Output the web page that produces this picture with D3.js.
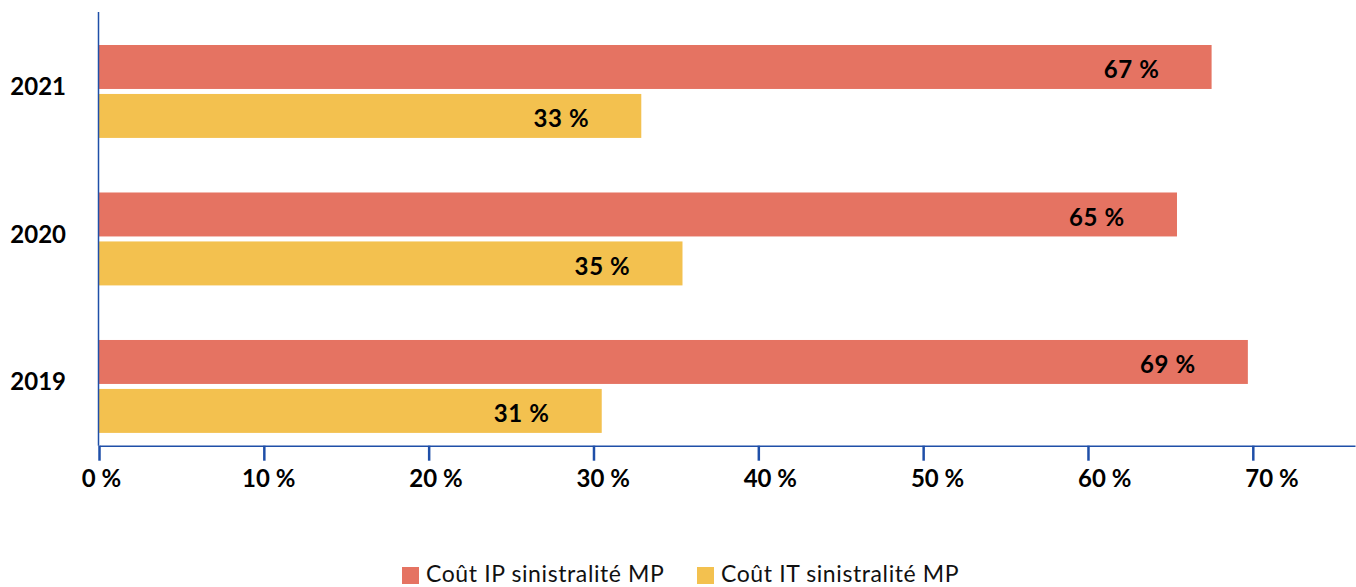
<!DOCTYPE html>
<html><head><meta charset="utf-8">
<script src="https://cdn.jsdelivr.net/npm/d3@7"></script>
<style>body{margin:0;background:#fff}svg{display:block;font-family:Lato,"Noto Sans",sans-serif}</style>
</head><body><svg id="c" width="1356" height="587"></svg>
<script>
const years = ["2021","2020","2019"];
const seriesNames = ["Coût IP sinistralité MP","Coût IT sinistralité MP"];
const ipValues = [67.5, 65.4, 69.7];
const itValues = [32.9, 35.4, 30.5];
const ipLabels = ["67 %","65 %","69 %"];
const itLabels = ["33 %","35 %","31 %"];
const tickValues = [0,10,20,30,40,50,60,70];
const tickLabels = ["0 %","10 %","20 %","30 %","40 %","50 %","60 %","70 %"];
const colors = ["#E57362","#F3C14F"];
const axisColor = "#1F4FA8";

const svg = d3.select("#c");
const x = d3.scaleLinear().domain([0, 76.2]).range([99, 1355]);
const xLab = d3.scaleLinear().domain([0, 70]).range([101.5, 1272]);
const y = d3.scaleBand().domain(years).range([15.5, 462.4]).paddingInner(0.37).paddingOuter(0.2);
const ySub = d3.scaleBand().domain([0,1]).range([0, y.bandwidth()]).paddingInner(0.102);

const rows = years.map((yr,i)=>({yr, vals:[ipValues[i], itValues[i]], labs:[ipLabels[i], itLabels[i]]}));

const g = svg.selectAll("g.row").data(rows).join("g").attr("class","row")
  .attr("transform", d=>`translate(0,${y(d.yr)})`);
g.selectAll("rect").data(d=>d.vals.map((v,k)=>({v,k}))).join("rect")
  .attr("x", x(0)).attr("y", d=>ySub(d.k)).attr("height", ySub.bandwidth())
  .attr("width", d=>x(d.v)-x(0)).attr("fill", d=>colors[d.k]);
g.selectAll("text.val").data(d=>d.vals.map((v,k)=>({v,k,l:d.labs[k]}))).join("text").attr("class","val")
  .attr("x", d=>x(d.v)-80).attr("y", d=>ySub(d.k)+ySub.bandwidth()/2+2)
  .attr("text-anchor","middle").attr("dominant-baseline","central")
  .attr("font-size",24).attr("font-weight",700).attr("letter-spacing",0.6).attr("fill","#000").text(d=>d.l);

// year labels
svg.selectAll("text.yr").data(years).join("text").attr("class","yr")
  .attr("x",66).attr("y", d=>y(d)+ySub.bandwidth()-3)
  .attr("text-anchor","end").attr("dominant-baseline","central")
  .attr("font-size",24).attr("font-weight",700).attr("fill","#000").text(d=>d);

// axes
const axisY = 445.7;
svg.append("line").attr("x1",98.5).attr("x2",98.5).attr("y1",12).attr("y2",axisY)
  .attr("stroke",axisColor).attr("stroke-width",1.5);
const ax = svg.append("g").attr("transform",`translate(0,${axisY})`)
  .call(d3.axisBottom(x).tickValues(tickValues).tickSize(15).tickSizeOuter(0).tickFormat(""));
ax.select(".domain").attr("stroke",axisColor).attr("stroke-width",1.5);
ax.selectAll(".tick line").attr("stroke",axisColor).attr("stroke-width",2.5);
svg.selectAll("text.tk").data(tickValues).join("text").attr("class","tk")
  .attr("x", d=>xLab(d)).attr("y",487).attr("text-anchor","middle")
  .attr("font-size",24).attr("font-weight",700).attr("fill","#000")
  .text((d,i)=>tickLabels[i]);

// legend
const legX = [402, 697];
const lg = svg.selectAll("g.leg").data(seriesNames).join("g").attr("class","leg")
  .attr("transform",(d,i)=>`translate(${legX[i]},567)`);
lg.append("rect").attr("width",17).attr("height",17).attr("fill",(d,i)=>colors[i]);
lg.append("text").attr("x",24).attr("y",15).attr("font-size",23).attr("letter-spacing",0.6)
  .attr("fill","#111").text(d=>d);
</script></body></html>
